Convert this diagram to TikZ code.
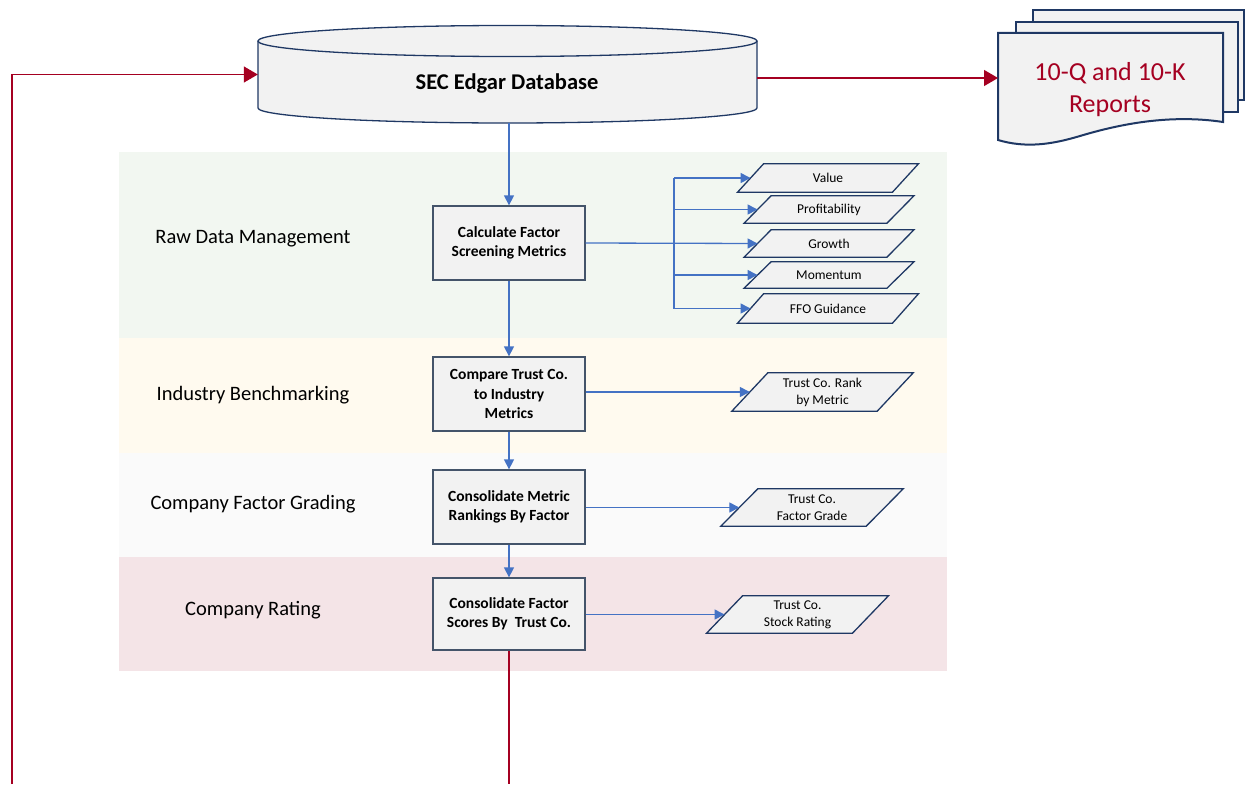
\documentclass[tikz,border=0pt]{standalone}
\usepackage{fontspec}
\setmainfont{Carlito}
\usetikzlibrary{arrows.meta,shapes.geometric,calc,backgrounds}
\definecolor{redln}{HTML}{A50021}
\definecolor{blueln}{HTML}{4472C4}
\definecolor{navy}{HTML}{1F3864}
\definecolor{boxfill}{HTML}{F2F2F2}
\definecolor{bandgreen}{HTML}{F2F7F1}
\definecolor{bandyellow}{HTML}{FFFAEF}
\definecolor{bandgray}{HTML}{FAFAFA}
\definecolor{bandpink}{HTML}{F4E4E7}
\definecolor{boxline}{HTML}{44546A}
\newcommand\paral[2]{\draw[datashape] ($(#1.north west)+(#2,0)$) -- ($(#1.north east)+(#2,0)$) -- ($(#1.south east)+(-#2,0)$) -- ($(#1.south west)+(-#2,0)$) -- cycle;}
\begin{document}
\begin{tikzpicture}[x=1pt,y=-1pt,
 proc/.style={draw=boxline, line width=1.3pt, fill=boxfill, minimum width=152pt, minimum height=74pt, inner sep=2pt, align=center, font=\fontsize{15.5}{19.5}\selectfont\bfseries},
 data/.style={rectangle, inner sep=0pt, align=center, font=\fontsize{13.5}{17}\selectfont},
 datashape/.style={draw=navy, line width=1.3pt, fill=boxfill, line join=miter},
 lane/.style={font=\fontsize{20.5}{24}\selectfont},
 barrow/.style={draw=blueln, line width=1.3pt, -{Triangle[length=10pt,width=10pt]}},
 bline/.style={draw=blueln, line width=1.3pt},
 rarrow/.style={draw=redln, line width=1.3pt, -{Triangle[length=14pt,width=16pt]}},
 rline/.style={draw=redln, line width=1.3pt},
 page/.style={draw=navy, line width=2pt, fill=boxfill},
]
\useasboundingbox (0,0) rectangle (1246,784);
% bands
\begin{scope}[on background layer]
\fill[bandgreen] (119,152) rectangle (947,338);
\fill[bandyellow] (119,338) rectangle (947,453);
\fill[bandgray] (119,453) rectangle (947,557);
\fill[bandpink] (119,557) rectangle (947,671);
\end{scope}
\node[lane] (l1) at (253,239) {Raw Data Management};
\node[lane] (l2) at (253,395) {Industry Benchmarking};
\node[lane] (l3) at (253,504) {Company Factor Grading};
\node[lane] (l4) at (253,610) {Company Rating};
% database cylinder
\fill[boxfill] (258,41) -- (258,108) arc[start angle=180, end angle=0, x radius=249.5, y radius=15] -- (757,41) -- cycle;
\draw[navy, line width=1.3pt] (258,41) -- (258,108) arc[start angle=180, end angle=0, x radius=249.5, y radius=15] -- (757,41);
\draw[navy, line width=1.3pt, fill=boxfill] (507.5,41) ellipse [x radius=249.5, y radius=15.5];
\node[minimum width=499pt, minimum height=97pt, inner sep=0pt] (db) at (507.5,74.5) {};
\node[font=\fontsize{22.5}{26}\selectfont\bfseries] (dbt) at (507,84) {SEC Edgar Database};
% document stack
\draw[page] (1033,10) rectangle (1244,100);
\draw[page] (1016,22) rectangle (1238,112);
\draw[page] (998,33) -- (1223,33) -- (1223,122) .. controls (1170,114) and (1120,124) .. (1080,136) .. controls (1050,145) and (1025,148) .. (998,140) -- cycle;
\coordinate (docin) at (998,78);
\node[align=center, text=redln, font=\fontsize{26}{32}\selectfont] (doc) at (1110,90) {10-Q and 10-K\\Reports};
% process boxes
\node[proc] (b1) at (509,243) {Calculate Factor\\Screening Metrics};
\node[proc] (b2) at (509,394) {Compare Trust Co.\\to Industry\\Metrics};
\node[proc] (b3) at (509,507) {Consolidate Metric\\Rankings By Factor};
\node[proc, minimum height=72pt] (b4) at (509,614) {Consolidate Factor\\Scores By~ Trust Co.};
% data shapes (text nodes; outline drawn behind)
\node[data, minimum width=154.5pt, minimum height=28pt] (v) at (828,178) {Value};
\node[data, minimum width=142.5pt, minimum height=27pt] (p) at (829,209.5) {Profitability};
\node[data, minimum width=142.5pt, minimum height=27pt] (g) at (829,243.5) {Growth};
\node[data, minimum width=142.5pt, minimum height=26pt] (m) at (829,275) {Momentum};
\node[data, minimum width=154.5pt, minimum height=29pt] (f) at (828,308.5) {FFO Guidance};
\node[data, minimum width=145pt, minimum height=38pt] (r1) at (822.5,392) {Trust Co. Rank\\by Metric};
\node[data, minimum width=145pt, minimum height=37pt] (r2) at (812,507.5) {Trust Co.\\Factor Grade};
\node[data, minimum width=145.5pt, minimum height=37pt] (r3) at (797.5,614.5) {Trust Co.\\Stock Rating};
\begin{scope}[on background layer]
\paral{v}{13}
\paral{p}{13.5}
\paral{g}{13.5}
\paral{m}{13.5}
\paral{f}{13}
\paral{r1}{18}
\paral{r2}{18.5}
\paral{r3}{18}
\end{scope}
% blue connectors
\draw[barrow] (db.south -| b1.north) -- (b1.north);
\draw[barrow] (b1.south) -- (b2.north);
\draw[barrow] (b2.south) -- (b3.north);
\draw[barrow] (b3.south) -- (b4.north);
\coordinate (br) at (674,243);
\draw[barrow] (b1.east) -- (g.west);
\draw[bline] (br |- v.west) -- (br |- f.west);
\draw[barrow] (br |- v.west) -- (v.west);
\draw[barrow] (br |- p.west) -- (p.west);
\draw[barrow] (br |- m.west) -- (m.west);
\draw[barrow] (br |- f.west) -- (f.west);
\draw[barrow] (b2.east |- r1.west) -- (r1.west);
\draw[barrow] (b3.east |- r2.west) -- (r2.west);
\draw[barrow] (b4.east |- r3.west) -- (r3.west);
% red connectors
\coordinate (lb) at (12,784);
\draw[rarrow] (lb) |- (db.west);
\draw[rarrow] (db.east |- docin) -- (docin);
\draw[rline] (b4.south) -- (b4.south |- lb);
\end{tikzpicture}
\end{document}
